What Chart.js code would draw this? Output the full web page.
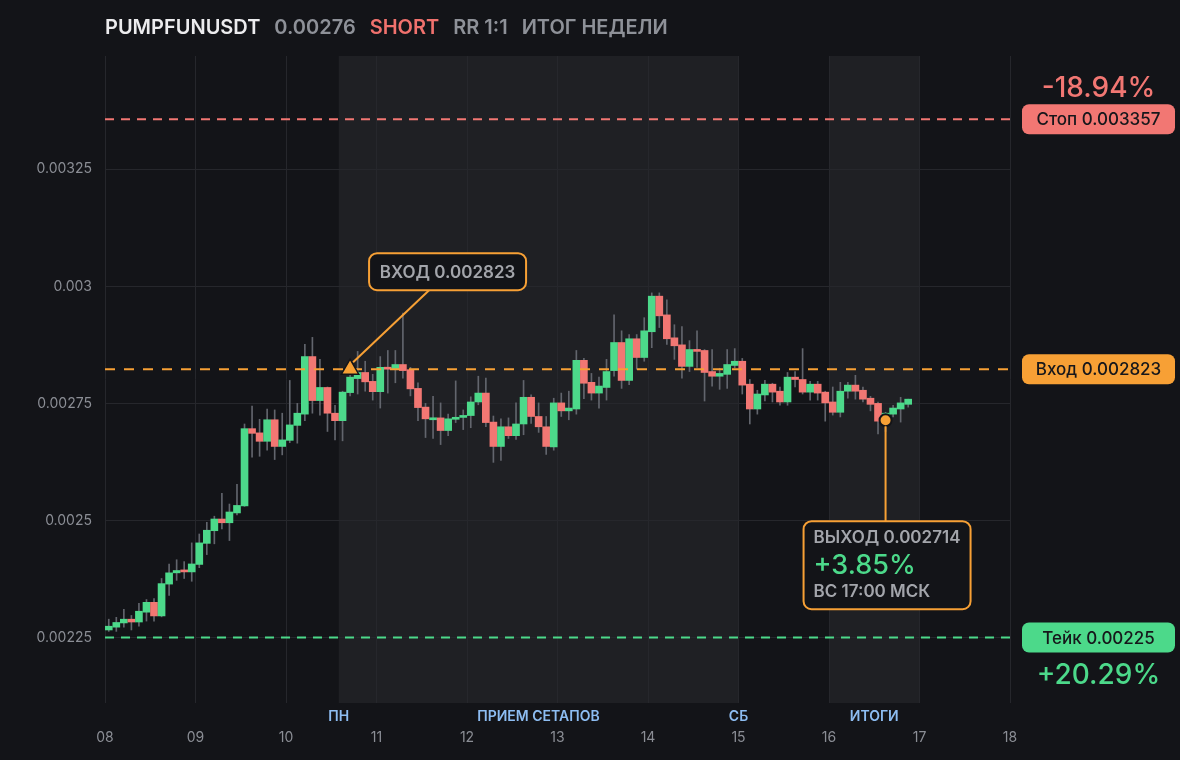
<!DOCTYPE html>
<html>
<head>
<meta charset="utf-8">
<script src="https://cdn.jsdelivr.net/npm/chart.js@4.4.0/dist/chart.umd.min.js"></script>
<style>
  html, body { margin: 0; background: #131418; }
  #wrap { width: 1180px; height: 760px; position: relative; }
</style>
</head>
<body>
<div id="wrap"><canvas id="chart"></canvas></div>
<script>
// 2h candles starting 08 00:00
const startDay = 8
const candleHours = 2

const opens = [
  0.002266, 0.002272, 0.002281, 0.002289, 0.002283, 0.002304, 0.002325, 0.002296, 0.002364, 0.002388,
  0.002393, 0.002390, 0.002406, 0.002451, 0.002478, 0.002503, 0.002495, 0.002516, 0.002531, 0.002696,
  0.002687, 0.002669, 0.002715, 0.002658, 0.002671, 0.002703, 0.002727, 0.002850, 0.002756, 0.002784,
  0.002729, 0.002713, 0.002773, 0.002803, 0.002816, 0.002797, 0.002775, 0.002827, 0.002822, 0.002833,
  0.002822, 0.002782, 0.002742, 0.002715, 0.002719, 0.002692, 0.002716, 0.002720, 0.002724, 0.002753,
  0.002772, 0.002710, 0.002658, 0.002700, 0.002681, 0.002706, 0.002763, 0.002722, 0.002700, 0.002657,
  0.002751, 0.002734, 0.002738, 0.002842, 0.002795, 0.002772, 0.002784, 0.002820, 0.002880, 0.002799,
  0.002888, 0.002848, 0.002903, 0.002979, 0.002939, 0.002890, 0.002875, 0.002829, 0.002865, 0.002863,
  0.002818, 0.002808, 0.002812, 0.002831, 0.002840, 0.002791, 0.002738, 0.002768, 0.002791, 0.002776,
  0.002753, 0.002806, 0.002801, 0.002774, 0.002791, 0.002774, 0.002753, 0.002731, 0.002776, 0.002789,
  0.002778, 0.002761, 0.002750, 0.002712, 0.002727, 0.002738, 0.002748
]
const highs = [
  0.002289, 0.002293, 0.002310, 0.002297, 0.002323, 0.002331, 0.002333, 0.002376, 0.002407, 0.002416,
  0.002412, 0.002452, 0.002471, 0.002496, 0.002509, 0.002558, 0.002535, 0.002577, 0.002706, 0.002744,
  0.002716, 0.002738, 0.002736, 0.002729, 0.002799, 0.002750, 0.002876, 0.002891, 0.002844, 0.002785,
  0.002746, 0.002776, 0.002825, 0.002861, 0.002840, 0.002812, 0.002850, 0.002863, 0.002863, 0.002943,
  0.002827, 0.002794, 0.002750, 0.002765, 0.002751, 0.002727, 0.002798, 0.002736, 0.002764, 0.002808,
  0.002804, 0.002723, 0.002717, 0.002719, 0.002751, 0.002799, 0.002768, 0.002751, 0.002722, 0.002761,
  0.002772, 0.002776, 0.002863, 0.002846, 0.002814, 0.002806, 0.002844, 0.002939, 0.002905, 0.002897,
  0.002897, 0.002933, 0.002986, 0.002986, 0.002971, 0.002918, 0.002914, 0.002884, 0.002905, 0.002865,
  0.002865, 0.002825, 0.002865, 0.002867, 0.002846, 0.002801, 0.002778, 0.002799, 0.002793, 0.002785,
  0.002816, 0.002818, 0.002867, 0.002797, 0.002797, 0.002776, 0.002785, 0.002795, 0.002795, 0.002810,
  0.002785, 0.002765, 0.002753, 0.002731, 0.002746, 0.002763, 0.002759
]
const lows = [
  0.002263, 0.002263, 0.002272, 0.002266, 0.002274, 0.002285, 0.002285, 0.002294, 0.002340, 0.002372,
  0.002376, 0.002370, 0.002399, 0.002427, 0.002450, 0.002482, 0.002457, 0.002512, 0.002530, 0.002635,
  0.002637, 0.002650, 0.002630, 0.002640, 0.002666, 0.002665, 0.002713, 0.002729, 0.002725, 0.002690,
  0.002672, 0.002670, 0.002766, 0.002770, 0.002776, 0.002757, 0.002740, 0.002772, 0.002794, 0.002804,
  0.002766, 0.002713, 0.002677, 0.002675, 0.002662, 0.002681, 0.002709, 0.002694, 0.002698, 0.002747,
  0.002700, 0.002624, 0.002628, 0.002675, 0.002673, 0.002683, 0.002707, 0.002688, 0.002641, 0.002650,
  0.002722, 0.002715, 0.002727, 0.002760, 0.002757, 0.002740, 0.002757, 0.002808, 0.002782, 0.002790,
  0.002823, 0.002840, 0.002869, 0.002912, 0.002876, 0.002844, 0.002804, 0.002818, 0.002827, 0.002755,
  0.002787, 0.002780, 0.002782, 0.002826, 0.002770, 0.002706, 0.002727, 0.002755, 0.002753, 0.002746,
  0.002746, 0.002785, 0.002770, 0.002757, 0.002757, 0.002712, 0.002725, 0.002721, 0.002761, 0.002759,
  0.002753, 0.002734, 0.002685, 0.002690, 0.002721, 0.002710, 0.002742
]
const closes = [
  0.002274, 0.002282, 0.002289, 0.002283, 0.002306, 0.002325, 0.002296, 0.002365, 0.002388, 0.002393,
  0.002390, 0.002407, 0.002452, 0.002479, 0.002503, 0.002495, 0.002518, 0.002532, 0.002696, 0.002686,
  0.002669, 0.002715, 0.002658, 0.002672, 0.002704, 0.002729, 0.002850, 0.002756, 0.002784, 0.002729,
  0.002713, 0.002774, 0.002806, 0.002816, 0.002796, 0.002775, 0.002827, 0.002823, 0.002833, 0.002820,
  0.002781, 0.002741, 0.002717, 0.002719, 0.002692, 0.002717, 0.002720, 0.002724, 0.002753, 0.002772,
  0.002709, 0.002658, 0.002700, 0.002681, 0.002706, 0.002763, 0.002722, 0.002700, 0.002658, 0.002751,
  0.002734, 0.002740, 0.002842, 0.002793, 0.002772, 0.002787, 0.002818, 0.002880, 0.002799, 0.002888,
  0.002848, 0.002905, 0.002979, 0.002937, 0.002888, 0.002873, 0.002829, 0.002865, 0.002861, 0.002816,
  0.002808, 0.002814, 0.002833, 0.002840, 0.002789, 0.002738, 0.002770, 0.002791, 0.002774, 0.002753,
  0.002806, 0.002801, 0.002774, 0.002791, 0.002772, 0.002751, 0.002731, 0.002776, 0.002789, 0.002776,
  0.002759, 0.002748, 0.002712, 0.002729, 0.002740, 0.002751, 0.002759
]

const xTicks = [8, 9, 10, 11, 12, 13, 14, 15, 16, 17, 18]
const xTickLabels = ['08', '09', '10', '11', '12', '13', '14', '15', '16', '17', '18']
const yTicks = [0.00225, 0.0025, 0.00275, 0.003, 0.00325]
const yTickLabels = ['0.00225', '0.0025', '0.00275', '0.003', '0.00325']

// shaded sessions (days) and their labels
const zones = [[10.583, 15], [16, 17]]
const sessionLabels = ['ПН', 'ПРИЕМ СЕТАПОВ', 'СБ', 'ИТОГИ']
const sessionLabelDays = [10.583, 12.79, 15, 16.5]

const stopPrice = 0.003357
const entryPrice = 0.002823
const takePrice = 0.00225
const exitPrice = 0.002714
const entryTime = 10.708
const exitTime = 16.625

const GREEN = '#4cd98a'
const RED = '#f27773'
const ORANGE = '#f7a035'
const BG = '#131418'

const times = opens.map((o, i) => startDay + (i + 0.5) * candleHours / 24)
const bodies = opens.map((o, i) => ({ x: times[i], y: [Math.min(o, closes[i]), Math.max(o, closes[i])] }))
const wicks = opens.map((o, i) => ({ x: times[i], y: [lows[i], highs[i]] }))
const bodyColors = opens.map((o, i) => closes[i] >= o ? GREEN : RED)

const levelLine = (price, color, dash, width, order) => ({
  type: 'line',
  data: [{ x: 8, y: price }, { x: 18, y: price }],
  borderColor: color,
  borderWidth: width,
  borderDash: dash,
  pointRadius: 0,
  order: order
})

function box(ctx, x, y, w, h, r, fill, stroke) {
  ctx.beginPath()
  ctx.roundRect(x, y, w, h, r)
  if (fill) { ctx.fillStyle = fill; ctx.fill() }
  if (stroke) { ctx.strokeStyle = stroke; ctx.lineWidth = 2; ctx.stroke() }
}

const overlay = {
  id: 'overlay',
  beforeDraw(chart) {
    const { ctx, chartArea: a, scales: { x } } = chart
    ctx.save()
    ctx.fillStyle = BG
    ctx.fillRect(0, 0, chart.width, chart.height)
    ctx.fillStyle = '#1f2024'
    zones.forEach(z => {
      const x0 = x.getPixelForValue(z[0]), x1 = x.getPixelForValue(z[1])
      ctx.fillRect(x0, a.top, x1 - x0, a.bottom - a.top)
    })

    // header
    const header = [
      ['PUMPFUNUSDT', '#ececee'],
      ['0.00276', '#8e9198'],
      ['SHORT', '#f0716d'],
      ['RR 1:1', '#8e9198'],
      ['ИТОГ НЕДЕЛИ', '#8e9198']
    ]
    ctx.font = '600 20px Inter'
    ctx.textBaseline = 'middle'
    let px = a.left
    header.forEach(h => {
      ctx.fillStyle = h[1]
      ctx.fillText(h[0], px, 28)
      px += ctx.measureText(h[0]).width + 14
    })
    ctx.restore()
  },
  afterDraw(chart) {
    const { ctx, chartArea: a, scales: { x, y } } = chart
    ctx.save()
    ctx.textBaseline = 'middle'

    // session labels under the plot
    ctx.font = '600 14px Inter'
    ctx.fillStyle = '#8dbdf2'
    ctx.textAlign = 'center'
    sessionLabels.forEach((t, i) => ctx.fillText(t, x.getPixelForValue(sessionLabelDays[i]), a.bottom + 14))

    // entry callout
    const ex = x.getPixelForValue(entryTime), ey = y.getPixelForValue(entryPrice)
    const bx = ex + 19, by = ey - 116, bw = 157, bh = 37
    ctx.strokeStyle = ORANGE
    ctx.lineWidth = 2
    ctx.beginPath()
    ctx.moveTo(bx + 60, by + bh)
    ctx.lineTo(ex + 3, ey - 7)
    ctx.stroke()
    box(ctx, bx, by, bw, bh, 8, BG, ORANGE)
    ctx.font = '600 17px Inter'
    ctx.fillStyle = '#a3a5ab'
    ctx.fillText('ВХОД 0.002823', bx + bw / 2, by + bh / 2 + 1)

    // exit callout
    const xx = x.getPixelForValue(exitTime), xy = y.getPixelForValue(exitPrice)
    const cx = xx - 82, cy = xy + 101, cw = 167, ch = 88
    ctx.strokeStyle = ORANGE
    ctx.beginPath()
    ctx.moveTo(xx, xy + 6)
    ctx.lineTo(xx, cy)
    ctx.stroke()
    box(ctx, cx, cy, cw, ch, 8, BG, ORANGE)
    ctx.textAlign = 'left'
    ctx.font = '600 17px Inter'
    ctx.fillStyle = '#a3a5ab'
    ctx.fillText('ВЫХОД 0.002714', cx + 10, cy + 17)
    ctx.font = '500 27px Inter'
    ctx.fillStyle = GREEN
    ctx.fillText('+3.85%', cx + 10, cy + 45)
    ctx.font = '600 17px Inter'
    ctx.fillStyle = '#a3a5ab'
    ctx.fillText('ВС 17:00 МСК', cx + 10, cy + 71)

    // right-hand level tags
    const tagX = 1022, tagW = 153, tagH = 30, mid = tagX + tagW / 2
    const tags = [
      [stopPrice, 'Стоп 0.003357', RED],
      [entryPrice, 'Вход 0.002823', ORANGE],
      [takePrice, 'Тейк 0.00225', GREEN]
    ]
    ctx.textAlign = 'center'
    tags.forEach(t => {
      const ty = y.getPixelForValue(t[0])
      box(ctx, tagX, ty - tagH / 2, tagW, tagH, 7, t[2], null)
      ctx.font = '500 17px Inter'
      ctx.fillStyle = '#16171b'
      ctx.fillText(t[1], mid, ty + 1)
    })
    ctx.font = '500 28px Inter'
    ctx.fillStyle = RED
    ctx.fillText('-18.94%', mid, y.getPixelForValue(stopPrice) - 31)
    ctx.fillStyle = GREEN
    ctx.fillText('+20.29%', mid, y.getPixelForValue(takePrice) + 38)
    ctx.restore()
  }
}

new Chart(document.getElementById('chart'), {
  type: 'bar',
  data: {
    datasets: [
      {
        data: wicks,
        backgroundColor: '#62656d',
        barThickness: 1,
        grouped: false,
        order: 4
      },
      {
        data: bodies,
        backgroundColor: bodyColors,
        barThickness: 7,
        minBarLength: 2,
        grouped: false,
        order: 3
      },
      levelLine(stopPrice, RED, [9, 7], 2, 2),
      levelLine(takePrice, GREEN, [9, 7], 2, 2),
      levelLine(entryPrice, ORANGE, [10, 9], 2, 2),
      {
        type: 'scatter',
        data: [{ x: entryTime, y: entryPrice }],
        pointStyle: 'triangle',
        pointRadius: 10,
        backgroundColor: ORANGE,
        borderColor: BG,
        borderWidth: 1.5,
        order: 1
      },
      {
        type: 'scatter',
        data: [{ x: exitTime, y: exitPrice }],
        pointStyle: 'circle',
        pointRadius: 6,
        backgroundColor: ORANGE,
        borderColor: BG,
        borderWidth: 2,
        order: 0
      }
    ]
  },
  options: {
    responsive: true,
    maintainAspectRatio: false,
    animation: false,
    layout: { padding: { top: 56, right: 170, bottom: 0, left: 0 } },
    plugins: { legend: { display: false }, tooltip: { enabled: false } },
    scales: {
      x: {
        type: 'linear',
        min: 8,
        max: 18,
        offset: false,
        afterFit: s => { s.height = 57 },
        afterBuildTicks: s => { s.ticks = xTicks.map(v => ({ value: v })) },
        grid: { color: '#26272c', offset: false, drawTicks: false },
        border: { display: false },
        ticks: {
          padding: 26,
          color: '#8b8e95',
          font: { family: 'Inter', size: 14 },
          maxRotation: 0,
          callback: (v, i) => xTickLabels[i]
        }
      },
      y: {
        min: 0.00211,
        max: 0.003492,
        afterFit: s => { s.width = 105 },
        afterBuildTicks: s => { s.ticks = yTicks.map(v => ({ value: v })) },
        grid: { color: '#26272c', drawTicks: false },
        border: { display: false },
        ticks: {
          padding: 13,
          color: '#8b8e95',
          font: { family: 'Inter', size: 14 },
          callback: (v, i) => yTickLabels[i]
        }
      }
    }
  },
  plugins: [overlay]
})
</script>
</body>
</html>
